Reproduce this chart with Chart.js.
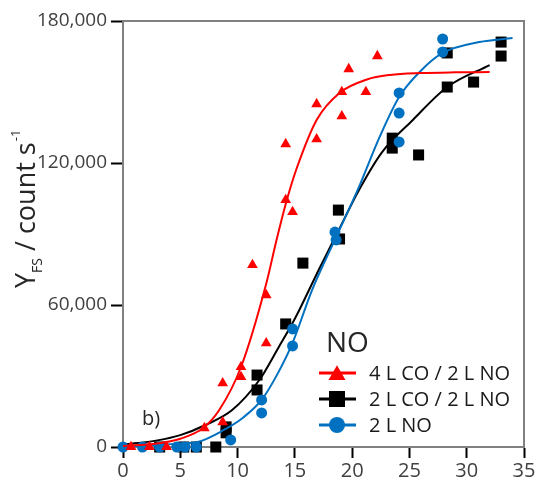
<!DOCTYPE html>
<html>
<head>
<meta charset="utf-8">
<script src="https://cdn.jsdelivr.net/npm/chart.js@4"></script>
<style>
  html, body { margin: 0; padding: 0; background: #fff; }
</style>
</head>
<body>
<canvas id="chart" width="539" height="486"></canvas>
<script>
// measured points (x = time, y = count s-1)
var redX = [0.7, 2.3, 3.8, 7.1, 8.7, 8.7, 10.3, 10.3, 11.3, 12.5, 12.5, 14.2, 14.8, 14.2, 16.9, 16.9, 19.1, 19.1, 19.7, 21.2, 22.2];
var redY = [0, 0, 0, 8000, 10500, 27000, 29600, 33800, 76900, 43900, 64200, 104400, 99300, 128000, 130100, 144900, 139800, 150000, 159700, 150000, 165200];

var blackX = [3.2, 5.3, 6.4, 8.1, 9.0, 9.0, 11.7, 11.7, 14.2, 15.7, 18.8, 18.9, 23.5, 23.5, 25.8, 28.3, 28.3, 30.6, 33.0, 33.0];
var blackY = [0, 0, 0, 0, 6000, 8500, 24100, 30400, 52000, 77700, 100100, 87900, 126300, 130500, 123400, 152100, 166500, 154200, 165200, 171100];

var blueX = [0, 1.7, 3.2, 4.7, 5.4, 6.4, 9.4, 12.1, 12.1, 14.8, 14.8, 18.5, 18.6, 24.1, 24.1, 24.1, 27.9, 27.9];
var blueY = [0, 0, 0, 0, 0, 0, 3000, 14400, 19900, 42700, 49900, 90800, 87500, 128900, 141100, 149600, 166900, 172400];

// fitted curves
var redFitX = [0, 3, 5, 7, 8.4, 10.3, 12.5, 13.4, 14.3, 15.2, 16.9, 18.9, 21.3, 23.3, 26, 29, 32];
var redFitY = [400, 1500, 3500, 8000, 15600, 33800, 69000, 87500, 104400, 118300, 138200, 149600, 155300, 157200, 158000, 158300, 158400];

var blackFitX = [0, 3, 5, 7.2, 9.5, 11.9, 13.6, 14.8, 15.4, 17.1, 18.7, 20.6, 22.6, 25.3, 28.3, 32];
var blackFitY = [1000, 2800, 5000, 9300, 15500, 28300, 42300, 52400, 58000, 75000, 90400, 108600, 124500, 138200, 152100, 161400];

var blueFitX = [0, 3, 5, 6.5, 8.8, 10.5, 12.1, 13.5, 14.8, 16.5, 18.6, 20.6, 22.4, 24.1, 26, 27.9, 31.1, 34];
var blueFitY = [300, 800, 1500, 2100, 7200, 12500, 19900, 31000, 44000, 66300, 88700, 109900, 131000, 147900, 159000, 166500, 171100, 172800];

var seriesLabels = ['4 L CO / 2 L NO', '2 L CO / 2 L NO', '2 L NO'];
var seriesColors = ['#ff0000', '#000000', '#0070c0'];
var seriesStyles = ['triangle', 'rect', 'circle'];
var legendTitle = 'NO';
var panelLabel = 'b)';

var xTicks = [0, 5, 10, 15, 20, 25, 30, 35];
var yTicks = [0, 60000, 120000, 180000];

function pairs(xs, ys) {
    var out = [];
    for (var i = 0; i < xs.length; i++) out.push({x: xs[i], y: ys[i]});
    return out;
}

function markers(i, xs, ys, r) {
    return {
        type: 'scatter',
        label: seriesLabels[i],
        data: pairs(xs, ys),
        showLine: false,
        pointStyle: seriesStyles[i],
        pointRadius: r,
        pointHoverRadius: r,
        pointBackgroundColor: seriesColors[i],
        pointBorderWidth: 0,
        clip: false
    };
}

function fit(i, xs, ys) {
    return {
        type: 'line',
        data: pairs(xs, ys),
        borderColor: seriesColors[i],
        borderWidth: 2,
        pointRadius: 0,
        cubicInterpolationMode: 'monotone',
        fill: false
    };
}

var FONT = '"Open Sans", "DejaVu Sans", sans-serif';

var extras = {
    id: 'extras',
    beforeDatasetsDraw(chart) {
        var ctx = chart.ctx, a = chart.chartArea;
        ctx.save();
        ctx.strokeStyle = '#808080';
        ctx.lineWidth = 2;
        ctx.beginPath();
        ctx.moveTo(a.left, a.top);
        ctx.lineTo(a.right, a.top);
        ctx.lineTo(a.right, a.bottom);
        ctx.stroke();
        ctx.restore();
    },
    afterDraw(chart) {
        var ctx = chart.ctx;
        ctx.save();
        ctx.fillStyle = '#262626';
        ctx.textAlign = 'left';
        ctx.textBaseline = 'alphabetic';

        // y axis title, rotated
        ctx.save();
        ctx.translate(35, 288);
        ctx.rotate(-Math.PI / 2);
        var x = 0;
        ctx.font = '27px ' + FONT;
        ctx.fillText('Y', x, 0); x += ctx.measureText('Y').width;
        ctx.font = '14px ' + FONT;
        ctx.fillText('FS', x, 7); x += ctx.measureText('FS').width;
        ctx.font = '27px ' + FONT;
        ctx.fillText(' / count s', x, 0); x += ctx.measureText(' / count s').width;
        ctx.font = '13px ' + FONT;
        ctx.fillText('-1', x + 1, -15);
        ctx.restore();

        // panel label
        ctx.font = '20px ' + FONT;
        ctx.fillText(panelLabel, 142, 425);

        // legend
        ctx.font = '28px ' + FONT;
        ctx.fillText(legendTitle, 326, 352);
        var rows = [373, 399, 425];
        var radii = [9.8, 11.3, 8];
        ctx.textBaseline = 'middle';
        ctx.font = '20px ' + FONT;
        for (var i = 0; i < seriesLabels.length; i++) {
            ctx.strokeStyle = seriesColors[i];
            ctx.lineWidth = 3;
            ctx.beginPath();
            ctx.moveTo(319, rows[i]);
            ctx.lineTo(356, rows[i]);
            ctx.stroke();
            ctx.fillStyle = seriesColors[i];
            Chart.helpers.drawPoint(ctx, {pointStyle: seriesStyles[i], radius: radii[i], rotation: 0, borderWidth: 0},
                337, rows[i] + (i === 0 ? 2 : 0));
            ctx.fillStyle = '#1a1a1a';
            ctx.fillText(seriesLabels[i], 369, rows[i] + 1);
        }
        ctx.restore();
    }
};

var ctx = document.getElementById('chart').getContext('2d');
var chartObj = new Chart(ctx, {
    data: {
        datasets: [
            markers(0, redX, redY, 6.2),
            fit(0, redFitX, redFitY),
            markers(2, blueX, blueY, 5.5),
            fit(2, blueFitX, blueFitY),
            markers(1, blackX, blackY, 7.8),
            fit(1, blackFitX, blackFitY)
        ]
    },
    options: {
        responsive: false,
        animation: false,
        devicePixelRatio: 1,
        layout: { padding: { top: 21, right: 15, left: 0, bottom: 0 } },
        plugins: { legend: { display: false }, tooltip: { enabled: false } },
        scales: {
            x: {
                type: 'linear',
                min: 0,
                max: 35,
                afterBuildTicks: function(s) { s.ticks = xTicks.map(function(v) { return {value: v}; }); },
                afterFit: function(s) { s.height = 39; },
                ticks: { font: { size: 20, family: FONT }, color: '#404040', padding: 1, maxRotation: 0 },
                grid: { drawOnChartArea: false, drawTicks: true, tickLength: 11, tickColor: '#000', tickWidth: 2 },
                border: { color: '#808080', width: 2 }
            },
            y: {
                type: 'linear',
                min: 0,
                max: 180000,
                afterBuildTicks: function(s) { s.ticks = yTicks.map(function(v) { return {value: v}; }); },
                afterFit: function(s) { s.width = 123; },
                ticks: {
                    font: { size: 19, family: FONT },
                    color: '#404040',
                    padding: 4,
                    callback: function(v) { return v.toLocaleString('en-US'); }
                },
                grid: { drawOnChartArea: false, drawTicks: true, tickLength: 12, tickColor: '#000', tickWidth: 2 },
                border: { color: '#808080', width: 2 }
            }
        }
    },
    plugins: [extras]
});
</script>
</body>
</html>
